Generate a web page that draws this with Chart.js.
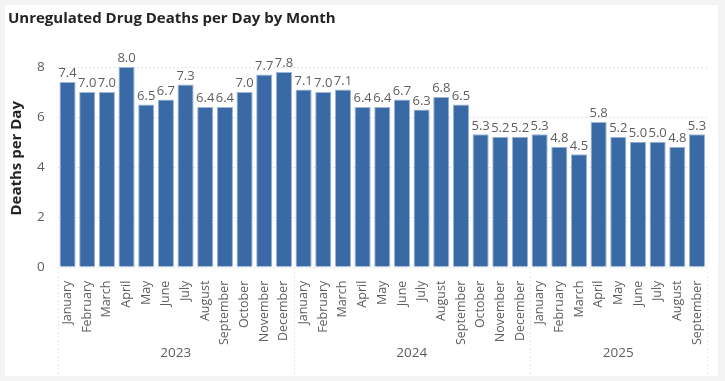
<!DOCTYPE html>
<html>
<head>
<meta charset="utf-8">
<script src="https://cdn.jsdelivr.net/npm/chart.js@4"></script>
<style>
  html,body{margin:0;padding:0;background:#f3f3f3;width:725px;height:381px;overflow:hidden;}
  #card{position:absolute;left:5px;top:5px;width:713px;height:371px;background:#fff;}
  canvas{display:block;}
</style>
</head>
<body>
<div id="card"><canvas id="c" width="713" height="371"></canvas></div>
<script>
const months = ["January","February","March","April","May","June","July","August","September","October","November","December",
                "January","February","March","April","May","June","July","August","September","October","November","December",
                "January","February","March","April","May","June","July","August","September"];
const years = ["2023","2024","2025"];
const monthsPerYear = [12, 12, 9];
const deathsPerDay = [7.4,7.0,7.0,8.0,6.5,6.7,7.3,6.4,6.4,7.0,7.7,7.8,
                      7.1,7.0,7.1,6.4,6.4,6.7,6.3,6.8,6.5,5.3,5.2,5.2,
                      5.3,4.8,4.5,5.8,5.2,5.0,5.0,4.8,5.3];
const yTicks = [0,2,4,6,8];

const FONT = "'Open Sans', 'Noto Sans', sans-serif";

const dottedGrid = {
  id: 'dottedGrid',
  beforeDatasetsDraw(chart) {
    const ctx = chart.ctx;
    const y = chart.scales.y;
    const area = chart.chartArea;
    ctx.save();
    ctx.strokeStyle = "#c8c8c8";
    ctx.lineWidth = 1;
    ctx.setLineDash([1, 3]);
    yTicks.forEach(v => {
      const py = Math.round(y.getPixelForValue(v)) + 0.5;
      ctx.beginPath();
      ctx.moveTo(area.left, py);
      ctx.lineTo(area.right, py);
      ctx.stroke();
    });
    ctx.restore();
  }
};

const dataLabels = {
  id: 'dataLabels',
  afterDatasetsDraw(chart) {
    const ctx = chart.ctx;
    const meta = chart.getDatasetMeta(0);
    ctx.save();
    ctx.font = "13px " + FONT;
    ctx.fillStyle = "#605e5c";
    ctx.textAlign = "center";
    ctx.textBaseline = "bottom";
    meta.data.forEach((bar, i) => {
      ctx.fillText(deathsPerDay[i].toFixed(1), bar.x, bar.y - 2);
    });
    ctx.restore();
  }
};

const yearAxis = {
  id: 'yearAxis',
  afterDraw(chart) {
    const ctx = chart.ctx;
    const x = chart.scales.x;
    const area = chart.chartArea;
    const half = (x.getPixelForValue(1) - x.getPixelForValue(0)) / 2;
    ctx.save();
    ctx.strokeStyle = "#cfcfcf";
    ctx.lineWidth = 1;
    ctx.setLineDash([1, 3]);
    let start = 0;
    const bounds = [];
    bounds.push(x.getPixelForValue(0) - half);
    monthsPerYear.forEach(n => { start += n; bounds.push(x.getPixelForValue(start - 1) + half); });
    bounds.forEach(bx => {
      const px = Math.round(bx) + 0.5;
      ctx.beginPath();
      ctx.moveTo(px, area.bottom + 6);
      ctx.lineTo(px, chart.height - 2);
      ctx.stroke();
    });
    ctx.setLineDash([]);
    ctx.font = "13.5px " + FONT;
    ctx.fillStyle = "#605e5c";
    ctx.textAlign = "center";
    ctx.textBaseline = "middle";
    years.forEach((y, i) => {
      ctx.fillText(y, (bounds[i] + bounds[i + 1]) / 2, 348);
    });
    ctx.restore();
  }
};

new Chart(document.getElementById('c'), {
  type: 'bar',
  data: {
    labels: months,
    datasets: [{
      data: deathsPerDay,
      backgroundColor: '#3a6aa6',
      borderColor: '#9db5d6',
      borderWidth: 1,
      barPercentage: 0.82,
      categoryPercentage: 1.0
    }]
  },
  options: {
    responsive: false,
    animation: false,
    layout: { padding: { left: 3, right: 1, top: 4, bottom: 25 } },
    plugins: {
      legend: { display: false },
      tooltip: { enabled: false },
      title: {
        display: true,
        text: 'Unregulated Drug Deaths per Day by Month',
        align: 'start',
        color: '#252423',
        font: { family: FONT, size: 15, weight: 'bold' },
        padding: { top: 1, bottom: 22 }
      }
    },
    scales: {
      x: {
        grid: { display: false },
        border: { display: false },
        ticks: {
          color: '#605e5c',
          font: { family: FONT, size: 12.5 },
          minRotation: 90, maxRotation: 90,
          autoSkip: false,
          padding: 6
        }
      },
      y: {
        min: 0,
        max: 8.68,
        afterBuildTicks(axis) { axis.ticks = yTicks.map(v => ({ value: v })); },
        grid: { display: false },
        border: { display: false },
        ticks: {
          color: '#605e5c',
          font: { family: FONT, size: 13.5 },
          padding: 5
        },
        title: {
          display: true,
          text: 'Deaths per Day',
          color: '#252423',
          font: { family: FONT, size: 15, weight: 'bold' },
          padding: { top: 0, bottom: 6 }
        }
      }
    }
  },
  plugins: [dottedGrid, dataLabels, yearAxis]
});
</script>
</body>
</html>
